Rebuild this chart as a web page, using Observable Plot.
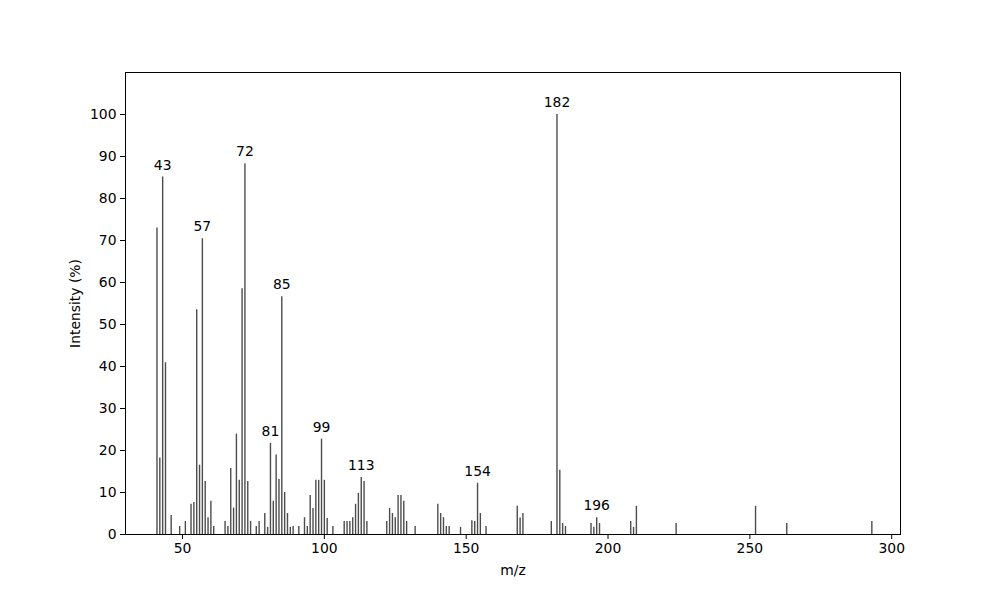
<!DOCTYPE html>
<html><head><meta charset="utf-8">
<script src="https://cdn.jsdelivr.net/npm/d3@7"></script>
<script src="https://cdn.jsdelivr.net/npm/@observablehq/plot@0.6"></script>
<style>body{margin:0;background:#fff} svg{display:block}</style>
</head><body><div id="chart"></div>
<script>
const mz = [41,42,43,44,46,49,51,53,54,55,56,57,58,59,60,61,65,66,67,68,69,70,71,72,73,74,76,77,79,80,81,82,83,84,85,86,87,88,89,91,93,94,95,96,97,98,99,100,101,103,107,108,109,110,111,112,113,114,115,122,123,124,125,126,127,128,129,132,140,141,142,143,144,148,152,153,154,155,157,168,169,170,180,182,183,184,185,194,195,196,197,208,209,210,224,252,263,293];
const intensity = [73,18.2,85.1,40.9,4.5,1.9,3.1,7.2,7.6,53.5,16.5,70.4,12.6,4.0,7.9,1.9,3.1,1.9,15.7,6.3,23.9,12.9,58.5,88.3,12.6,3.1,1.9,3.1,5.0,1.7,21.7,7.9,18.9,13.1,56.6,10.0,5.0,1.7,1.9,1.9,4.0,1.9,9.3,6.2,12.9,12.9,22.7,12.9,3.8,1.9,3.1,3.1,3.1,4.0,7.2,9.8,13.6,12.6,3.1,3.1,6.2,5.0,4.0,9.3,9.3,7.9,3.1,1.9,7.2,5.0,4.0,1.9,1.9,1.7,3.3,3.1,12.2,5.0,1.9,6.7,3.9,5.0,3.1,100,15.3,2.6,1.9,2.6,1.7,4.0,2.6,3.1,1.7,6.7,2.6,6.7,2.6,3.1];
const labeledPeaks = [43,57,72,81,85,99,113,154,182,196];
const xTicks = [50,100,150,200,250,300];
const yTicks = [0,10,20,30,40,50,60,70,80,90,100];

const data = mz.map((m,i)=>({mz:m, intensity:intensity[i]}));
const labels = data.filter(d=>labeledPeaks.includes(d.mz));

const chart = Plot.plot({
  width:1000, height:600,
  marginLeft:125, marginRight:100, marginTop:72, marginBottom:66,
  style:{fontFamily:"DejaVu Sans", fontSize:"13.9px", color:"#000", background:"#fff"},
  x:{domain:[29.9,303.1]},
  y:{domain:[0,110]},
  marks:[
    Plot.ruleX(data,{x:"mz", y1:0, y2:"intensity", stroke:"#4d4d4d", strokeWidth:1.4}),
    Plot.text(labels,{x:"mz", y:"intensity", text:d=>String(d.mz), dy:-12, fill:"#000", fontSize:13.9}),
    Plot.axisX({ticks:xTicks, tickSize:5, tickPadding:4, fontSize:13.9, label:"m/z", labelAnchor:"center", labelOffset:40, labelArrow:"none"}),
    Plot.axisY({ticks:yTicks, tickSize:5, tickPadding:4, fontSize:13.9, label:"Intensity (%)", labelAnchor:"center", labelOffset:55, labelArrow:"none"}),
    Plot.frame({stroke:"#000", strokeWidth:1})
  ]
});
document.getElementById("chart").appendChild(chart);
</script>
</body></html>
